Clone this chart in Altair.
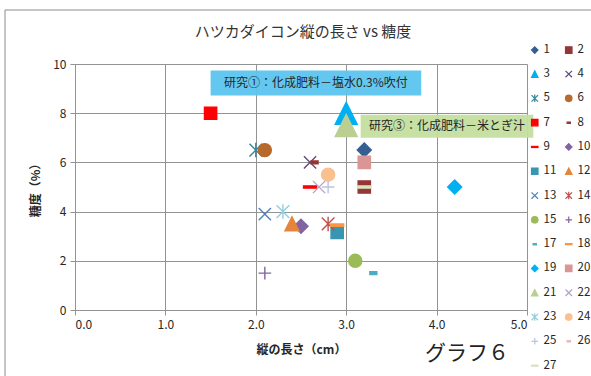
import altair as alt
import pandas as pd

# ---- data: one point per sample (series 1-27) ----
series = [str(i) for i in range(1, 28)]
length_cm = [3.2, 3.2, 3.0, 2.6, 2.0, 2.1, 1.5, 2.65, 2.6, 2.5, 2.9, 2.4, 2.1, 2.8,
             3.1, 2.1, 3.3, 2.9, 4.2, 3.2, 3.0, 2.7, 2.3, 2.8, 2.8, None, 3.2]
sugar_pct = [6.5, 5.0, 8.0, 6.0, 6.5, 6.5, 8.0, 6.0, 5.0, 3.4, 3.15, 3.5, 3.9, 3.5,
             2.0, 1.5, 1.5, 3.45, 5.0, 6.0, 7.5, 5.0, 4.0, 5.5, 5.0, None, 5.0]

x_ticks = [0, 1, 2, 3, 4, 5]
y_ticks = list(range(0, 11))

# callout labels (data coordinates of each box)
note_text = ["研究①：化成肥料－塩水0.3%吹付", "研究③：化成肥料－米とぎ汁"]
note_x1 = [1.5, 3.16]
note_x2 = [3.83, 5.07]
note_y1 = [9.74, 7.94]
note_y2 = [8.72, 7.0]
note_fill = ["#5CC4EE", "#C4DE9F"]

# ---- marker styles (Excel-like) ----
DIAMOND = "M0,-1L1,0L0,1L-1,0Z"
SQUARE = "M-1,-1H1V1H-1Z"
TRIANGLE = "M0,-1L1,1L-1,1Z"
XMARK = "M-1,-1L1,1M-1,1L1,-1"
STAR = "M-1,-1L1,1M-1,1L1,-1M0,-1.15V1.15"
CIRCLE = "circle"
PLUS = "M-1,0H1M0,-1V1"
SHORT_DASH = "M-0.5,-0.2H0.5V0.2H-0.5Z"
LONG_DASH = "M-1,-0.17H1V0.17H-1Z"

shapes = [DIAMOND, SQUARE, TRIANGLE, XMARK, STAR, CIRCLE, SQUARE, SHORT_DASH, LONG_DASH,
          DIAMOND, SQUARE, TRIANGLE, XMARK, STAR, CIRCLE, PLUS, SHORT_DASH, LONG_DASH,
          DIAMOND, SQUARE, TRIANGLE, XMARK, STAR, CIRCLE, PLUS, SHORT_DASH, LONG_DASH]
colors = ["#365F91", "#953735", "#00B0F0", "#604A7B", "#31859C", "#B8692C", "#FF0000",
          "#943634", "#FF0000", "#8064A2", "#3896B0", "#E5843C", "#4F81BD", "#C0504D",
          "#9BBB59", "#8064A2", "#4BACC6", "#F79646", "#00B0F0", "#D99694", "#BBCF93",
          "#B3A2C7", "#93CDDD", "#FAC090", "#B9C4E2", "#E6B9B8", "#D7E4BD"]
size_by_shape = {DIAMOND: 196, SQUARE: 150, TRIANGLE: 196, XMARK: 150, STAR: 160,
                 CIRCLE: 170, PLUS: 160, SHORT_DASH: 196, LONG_DASH: 169}
sizes = [size_by_shape[s] for s in shapes]
sizes[2] = 484   # large triangles
sizes[20] = 484

FONT = "Noto Sans CJK JP"
GRID = "#939393"

pts = pd.DataFrame({"series": series, "length": length_cm, "sugar": sugar_pct})
pts["marker_size"] = sizes
pts = pts.dropna()
notes = pd.DataFrame({"text": note_text, "x1": note_x1, "x2": note_x2,
                      "y1": note_y1, "y2": note_y2})
notes["xm"] = (notes["x1"] + notes["x2"]) / 2
notes["ym"] = (notes["y1"] + notes["y2"]) / 2

x_scale = alt.Scale(domain=[0, 5], nice=False, zero=False)
y_scale = alt.Scale(domain=[0, 10], nice=False, zero=False)

legend = alt.Legend(title=None, orient="none", legendX=454, legendY=-20, columns=2,
                    direction="horizontal", symbolSize=42, symbolStrokeWidth=1.2,
                    labelFontSize=11.5, labelFont=FONT, labelColor="#262626",
                    rowPadding=11.3, columnPadding=6, labelOffset=3)

points = alt.Chart(pts).mark_point(opacity=1, fillOpacity=1, strokeWidth=1.4).encode(
    x=alt.X("length:Q", scale=x_scale,
            axis=alt.Axis(values=x_ticks, format=".1f", title="縦の長さ（cm）")),
    y=alt.Y("sugar:Q", scale=y_scale,
            axis=alt.Axis(values=y_ticks, format="d", title="糖度（%）")),
    shape=alt.Shape("series:N", scale=alt.Scale(domain=series, range=shapes), legend=legend),
    fill=alt.Fill("series:N", scale=alt.Scale(domain=series, range=colors), legend=legend),
    stroke=alt.Stroke("series:N", scale=alt.Scale(domain=series, range=colors), legend=legend),
    size=alt.Size("marker_size:Q", scale=None, legend=None),
)

# one callout box per note, each with its own fill
boxes = [
    alt.Chart(notes).transform_filter(alt.datum.text == t).mark_rect(fill=c, opacity=0.95).encode(
        x=alt.X("x1:Q", scale=x_scale), x2="x2:Q",
        y=alt.Y("y1:Q", scale=y_scale), y2="y2:Q",
    )
    for t, c in zip(note_text, note_fill)
]
box_text = alt.Chart(notes).mark_text(font=FONT, fontSize=12, color="#262626").encode(
    x=alt.X("xm:Q", scale=x_scale), y=alt.Y("ym:Q", scale=y_scale), text="text:N"
)

frame = alt.Chart(alt.Data(values=[{}])).mark_rect(
    fill="transparent", stroke="#8C8C8C", strokeWidth=1
).encode(x=alt.value(-70), y=alt.value(-54), x2=alt.value(640), y2=alt.value(420))

title = alt.Chart(alt.Data(values=[{}])).mark_text(
    font=FONT, fontSize=15, color="#333333", align="center", baseline="middle"
).encode(x=alt.value(228), y=alt.value(-32), text=alt.value("ハツカダイコン縦の長さ vs 糖度"))

graph_no = alt.Chart(alt.Data(values=[{}])).mark_text(
    font=FONT, fontSize=21, color="#222222", align="left", baseline="middle"
).encode(x=alt.value(350), y=alt.value(290), text=alt.value("グラフ６"))

chart = alt.layer(frame, title, points, *boxes, box_text, graph_no).properties(
    width=452, height=246,
    autosize=alt.AutoSizeParams(type="none"),
    padding={"left": 75, "top": 64, "right": 64, "bottom": 66},
).configure_view(stroke=None).configure_axis(
    grid=True, gridColor=GRID, gridWidth=1, domainColor=GRID, tickColor=GRID,
    tickSize=5, labelFont=FONT, labelFontSize=12, labelColor="#262626",
    titleFont=FONT, titleFontSize=12, titleFontWeight="bold", titleColor="#262626",
).configure_axisX(labelPadding=4, titlePadding=14).configure_axisY(
    labelPadding=4, titlePadding=10
)

chart.save("out.html", embed_options={"renderer": "svg", "actions": False})
